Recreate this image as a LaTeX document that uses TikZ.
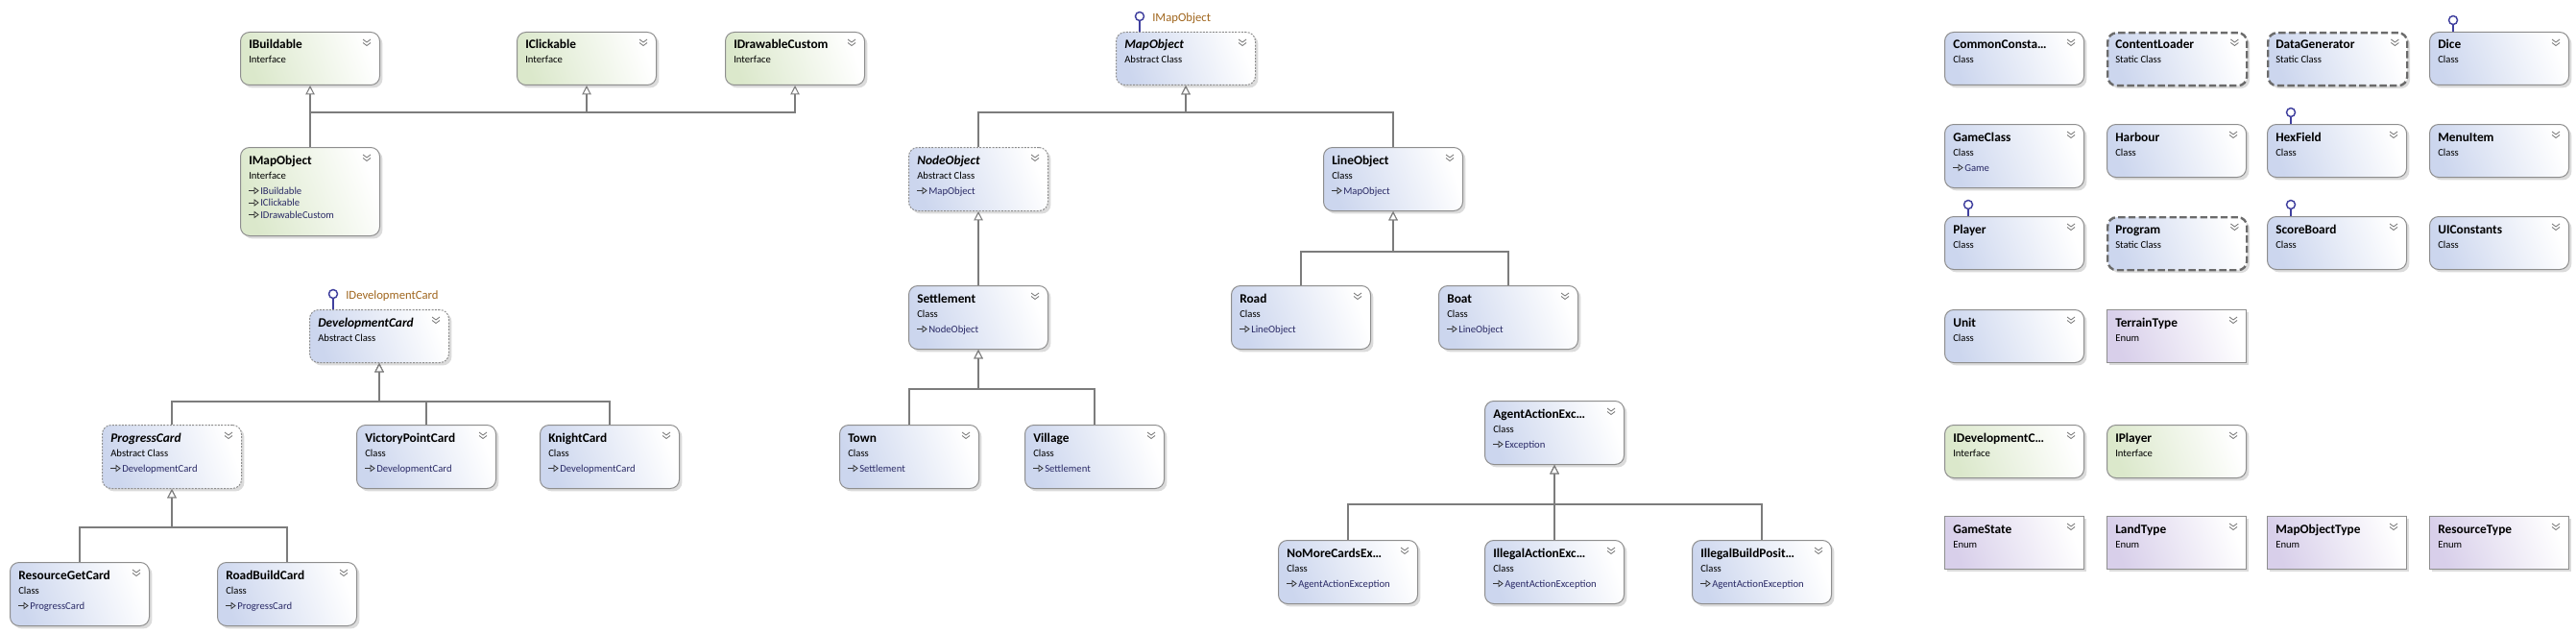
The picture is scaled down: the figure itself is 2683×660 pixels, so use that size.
\documentclass[tikz,border=0pt]{standalone}
\usepackage{fontspec}
\setmainfont{Carlito}
\usetikzlibrary{arrows.meta,shadows}

\definecolor{clsblue}{HTML}{CCD6EE}
\definecolor{ifgreen}{HTML}{DBE8CB}
\definecolor{enumlila}{HTML}{D8CFEA}
\definecolor{boxline}{HTML}{8E8E8E}
\definecolor{wire}{HTML}{7C7C7C}
\definecolor{lolline}{HTML}{40409E}
\definecolor{lollabel}{HTML}{A0661E}
\definecolor{basename}{HTML}{2A2A66}

\begin{document}
\begin{tikzpicture}[x=0.75pt, y=-0.75pt,
	box/.style={anchor=north west, inner sep=0pt, minimum width=108.75pt, draw=boxline, line width=0.75pt, rounded corners=7pt,
		drop shadow={shadow xshift=2.2pt, shadow yshift=-2.2pt, fill=black!14, opacity=1}},
	cls/.style={box, left color=clsblue, right color=white, shading angle=110},
	abs/.style={cls, dash pattern=on 1.5pt off 1pt},
	stat/.style={cls, draw=black!58, line width=1.8pt, dash pattern=on 5.5pt off 2.5pt},
	iface/.style={box, left color=ifgreen, right color=white, shading angle=110},
	enm/.style={box, sharp corners, left color=enumlila, right color=white, shading angle=110},
	ttl/.style={anchor=base west, inner sep=0pt, font=\fontsize{10}{12}\selectfont\bfseries},
	knd/.style={anchor=base west, inner sep=0pt, font=\fontsize{8}{10}\selectfont},
	bas/.style={knd, text=basename},
	chev/.style={draw=black!55, line width=0.6pt},
	baseicon/.style={draw=black!80, line width=0.6pt},
	inh/.style={draw=wire, line width=0.8pt, -{Triangle[open, fill=white, width=7pt, length=7pt]}},
	lolli/.style={draw=lolline, line width=1.1pt},
	lbl/.style={anchor=west, inner sep=0pt, text=lollabel, font=\fontsize{9.5}{11}\selectfont}]
	\useasboundingbox (0,0) rectangle (2683,660);

	% boxes: name / x / y / height / style / title / kind
	\foreach \id/\x/\y/\h/\sty/\ttl/\knd in {
		ibuild/250/33/55/iface/IBuildable/Interface,
		iclick/538/33/55/iface/IClickable/Interface,
		idraw/755/33/55/iface/IDrawableCustom/Interface,
		imapobj/250/153/92/iface/IMapObject/Interface,
		devcard/322/322/55/abs/{\itshape DevelopmentCard}/Abstract Class,
		progcard/106/442/66/abs/{\itshape ProgressCard}/Abstract Class,
		vpcard/371/442/66/cls/VictoryPointCard/Class,
		knightcard/562/442/66/cls/KnightCard/Class,
		rescard/10/585/66/cls/ResourceGetCard/Class,
		roadcard/226/585/66/cls/RoadBuildCard/Class,
		mapobj/1162/33/55/abs/{\itshape MapObject}/Abstract Class,
		nodeobj/946/153/66/abs/{\itshape NodeObject}/Abstract Class,
		lineobj/1378/153/66/cls/LineObject/Class,
		settle/946/297/66/cls/Settlement/Class,
		road/1282/297/66/cls/Road/Class,
		boat/1498/297/66/cls/Boat/Class,
		town/874/442/66/cls/Town/Class,
		village/1067/442/66/cls/Village/Class,
		agentex/1546/417/66/cls/AgentActionExc\ldots/Class,
		nomoreex/1331/562/66/cls/NoMoreCardsEx\ldots/Class,
		illactex/1546/562/66/cls/IllegalActionExc\ldots/Class,
		illbuildex/1762/562/66/cls/IllegalBuildPosit\ldots/Class,
		common/2025/33/55/cls/CommonConsta\ldots/Class,
		contentld/2194/33/55/stat/ContentLoader/Static Class,
		datagen/2361/33/55/stat/DataGenerator/Static Class,
		dice/2530/33/55/cls/Dice/Class,
		gameclass/2025/129/66/cls/GameClass/Class,
		harbour/2194/129/55/cls/Harbour/Class,
		hexfield/2361/129/55/cls/HexField/Class,
		menuitem/2530/129/55/cls/MenuItem/Class,
		player/2025/225/55/cls/Player/Class,
		program/2194/225/55/stat/Program/Static Class,
		scoreboard/2361/225/55/cls/ScoreBoard/Class,
		uiconst/2530/225/55/cls/UIConstants/Class,
		unit/2025/322/55/cls/Unit/Class,
		terrain/2194/322/55/enm/TerrainType/Enum,
		idevc/2025/442/55/iface/IDevelopmentC\ldots/Interface,
		iplayer/2194/442/55/iface/IPlayer/Interface,
		gamestate/2025/537/55/enm/GameState/Enum,
		landtype/2194/537/55/enm/LandType/Enum,
		mapobjtype/2361/537/55/enm/MapObjectType/Enum,
		restype/2530/537/55/enm/ResourceType/Enum} {
		\node[\sty, minimum height=0.75pt*\h] (\id) at (\x,\y) {};
		\node[ttl] (\id-t) at ([shift={(9,18)}]\id.north west) {\ttl};
		\node[knd] (\id-k) at ([shift={(9,33)}]\id.north west) {\knd};
		\draw[chev] ([shift={(-18,8)}]\id.north east) -- ++(4,3) -- ++(4,-3) ++(-8,3.5) -- ++(4,3) -- ++(4,-3);
	}

	% base types: name / base / offset
	\foreach \id/\base/\dy in {
		imapobj/IBuildable/0, imapobj/IClickable/12.5, imapobj/IDrawableCustom/25,
		nodeobj/MapObject/0, lineobj/MapObject/0, settle/NodeObject/0,
		road/LineObject/0, boat/LineObject/0, town/Settlement/0, village/Settlement/0,
		progcard/DevelopmentCard/0, vpcard/DevelopmentCard/0, knightcard/DevelopmentCard/0,
		rescard/ProgressCard/0, roadcard/ProgressCard/0, agentex/Exception/0,
		nomoreex/AgentActionException/0, illactex/AgentActionException/0,
		illbuildex/AgentActionException/0, gameclass/Game/0} {
		\draw[baseicon] ([shift={(9,45.5+\dy)}]\id.north west) -- ++(6,0);
		\draw[baseicon] ([shift={(15,42.5+\dy)}]\id.north west) -- ++(4,3) -- ++(-4,3) -- cycle;
		\node[bas] (\id-\base) at ([shift={(21,49+\dy)}]\id.north west) {\base};
	}

	% lollipops
	\foreach \id/\up in {mapobj/16, devcard/16, dice/12, hexfield/12, player/12, scoreboard/12} {
		\coordinate (\id-lp) at ([shift={(25,-\up)}]\id.north west);
		\draw[lolli] (\id-lp) circle[radius=4.5];
		\draw[lolli] ([shift={(0,4.5)}]\id-lp) -- (\id-lp |- \id.north);
	}
	\node[lbl] (mapobj-if) at ([shift={(13,2)}]mapobj-lp) {IMapObject};
	\node[lbl] (devcard-if) at ([shift={(13,2)}]devcard-lp) {IDevelopmentCard};

	% inheritance
	\coordinate (bus1) at (0,117);
	\coordinate (bus2) at (0,262);
	\coordinate (bus3) at (0,405);
	\coordinate (bus4) at (0,418);
	\coordinate (bus5) at (0,549);
	\coordinate (bus6) at (0,525);
	\foreach \p in {ibuild,iclick,idraw}
		\draw[inh] (imapobj.north) |- (\p.south |- bus1) -- (\p.south);
	\foreach \c in {nodeobj,lineobj}
		\draw[inh] (\c.north) |- (mapobj.south |- bus1) -- (mapobj.south);
	\draw[inh] (settle.north) -- (nodeobj.south);
	\foreach \c in {road,boat}
		\draw[inh] (\c.north) |- (lineobj.south |- bus2) -- (lineobj.south);
	\foreach \c in {town,village}
		\draw[inh] (\c.north) |- (settle.south |- bus3) -- (settle.south);
	\foreach \c in {progcard,vpcard,knightcard}
		\draw[inh] (\c.north) |- (devcard.south |- bus4) -- (devcard.south);
	\foreach \c in {rescard,roadcard}
		\draw[inh] (\c.north) |- (progcard.south |- bus5) -- (progcard.south);
	\foreach \c in {nomoreex,illactex,illbuildex}
		\draw[inh] (\c.north) |- (agentex.south |- bus6) -- (agentex.south);
\end{tikzpicture}
\end{document}
